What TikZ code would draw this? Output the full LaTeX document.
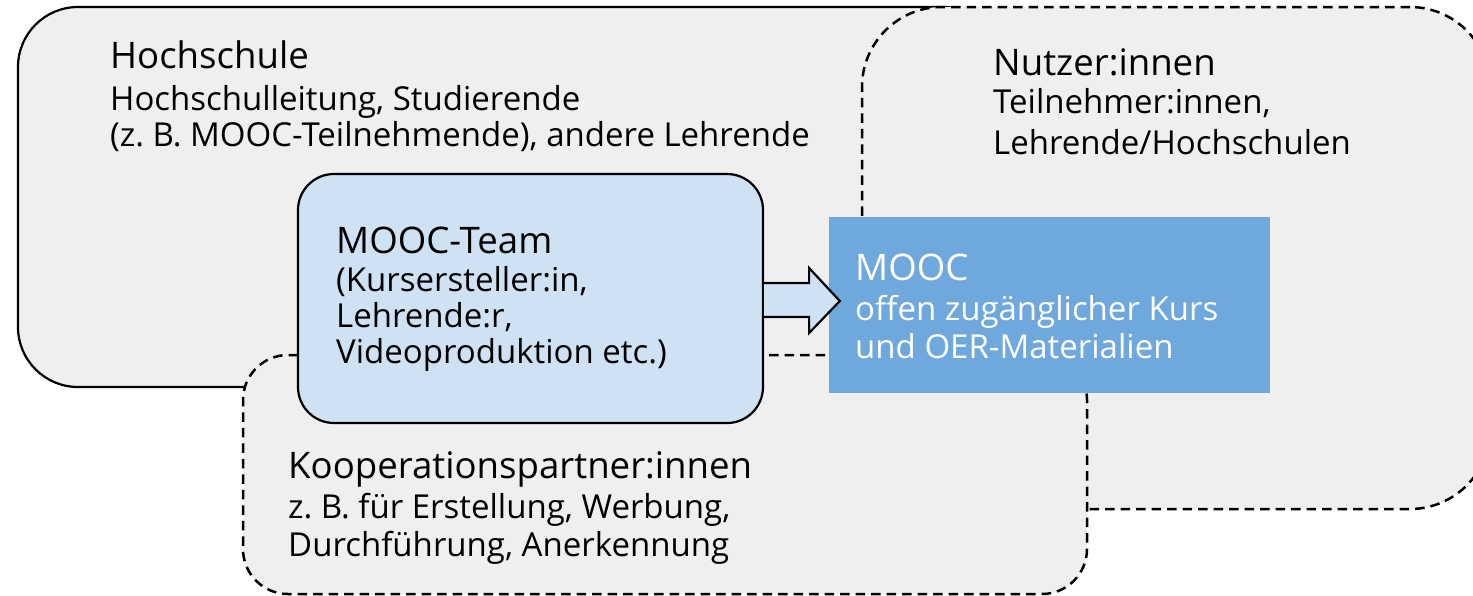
\documentclass[tikz,border=0pt]{standalone}
\usepackage{fontspec}
\setmainfont{Open Sans}
\usetikzlibrary{calc}
\definecolor{bggray}{HTML}{EFEFEF}
\definecolor{teamblue}{HTML}{CFE2F3}
\definecolor{moocblue}{HTML}{6FA8DC}
\newcommand{\tfont}{\fontsize{36.6}{42}\selectfont}
\newcommand{\bfont}{\fontsize{33}{36}\selectfont}
\newcommand{\kfont}{\fontsize{33}{38.5}\selectfont}
\tikzset{
  region/.style={draw=black, fill=bggray, line width=2.2pt, inner sep=0pt},
  dashregion/.style={region, line width=2.5pt, dash pattern=on 9.5pt off 6pt},
  teambox/.style={draw=black, fill=teamblue, line width=2.2pt, rounded corners=36pt, inner sep=0pt},
  moocbox/.style={fill=moocblue, draw=none, inner sep=0pt},
  label/.style={anchor=base west, inner sep=0pt, text=black},
  wlabel/.style={label, text=white},
  blockarrow/.style={draw=black, fill=teamblue, line width=2.2pt, line join=miter}
}
\begin{document}
\begin{tikzpicture}[x=1pt,y=-1pt]
\useasboundingbox (0,0) rectangle (1473,595);
\fill[white] (0,0) rectangle (1473,595);
\clip (0,0) rectangle (1473,595);
% regions
\node[region, rounded corners=60pt, minimum width=985pt, minimum height=380pt] (hs) at (510.5,197) {};
\node[dashregion, rounded corners=80pt, minimum width=628pt, minimum height=502pt] (nu) at (1176,258) {};
\node[dashregion, rounded corners=45pt, minimum width=844pt, minimum height=239pt] (ko) at (665,474.5) {};
% team and mooc
\node[teambox, minimum width=465pt, minimum height=249pt] (team) at (530.5,298.5) {};
\node[moocbox, minimum width=441pt, minimum height=176pt] (mooc) at (1049.5,305) {};
% arrow
\coordinate (tip) at ($(mooc.west)+(11,-4)$);
\draw[blockarrow] ($(team.east)+(0,-15.5)$) -- ++(45,0) -- ++(0,-15) -- (tip)
  -- ($(team.east)+(45,34.5)$) -- ++(0,-16) -- ($(team.east)+(0,18.5)$);
% texts
\node[label] (hst) at (110,68) {\tfont Hochschule};
\node[label] (hsb) at (110,110) {\bfont\begin{tabular}[t]{@{}l@{}}Hochschulleitung, Studierende\\(z.~B. MOOC-Teilnehmende), andere Lehrende\end{tabular}};
\node[label] (nut) at (993,75) {\tfont Nutzer:innen};
\node[label] (nub) at (993,113) {\fontsize{33}{41}\selectfont\begin{tabular}[t]{@{}l@{}}Teilnehmer:innen,\\Lehrende/Hochschulen\end{tabular}};
\node[label] (teamt) at (336,253) {\tfont MOOC-Team};
\node[label] (teamb) at (336,291) {\bfont\begin{tabular}[t]{@{}l@{}}(Kursersteller:in,\\Lehrende:r,\\Videoproduktion etc.)\end{tabular}};
\node[wlabel] (moot) at (855,280) {\tfont MOOC};
\node[wlabel] (moob) at (855,320) {\fontsize{33}{38}\selectfont\begin{tabular}[t]{@{}l@{}}offen zugänglicher Kurs\\und OER-Materialien\end{tabular}};
\node[label] (kot) at (288,478) {\tfont Kooperationspartner:innen};
\node[label] (kob) at (288,518) {\kfont\begin{tabular}[t]{@{}l@{}}z.~B. für Erstellung, Werbung,\\Durchführung, Anerkennung\end{tabular}};
\end{tikzpicture}
\end{document}
